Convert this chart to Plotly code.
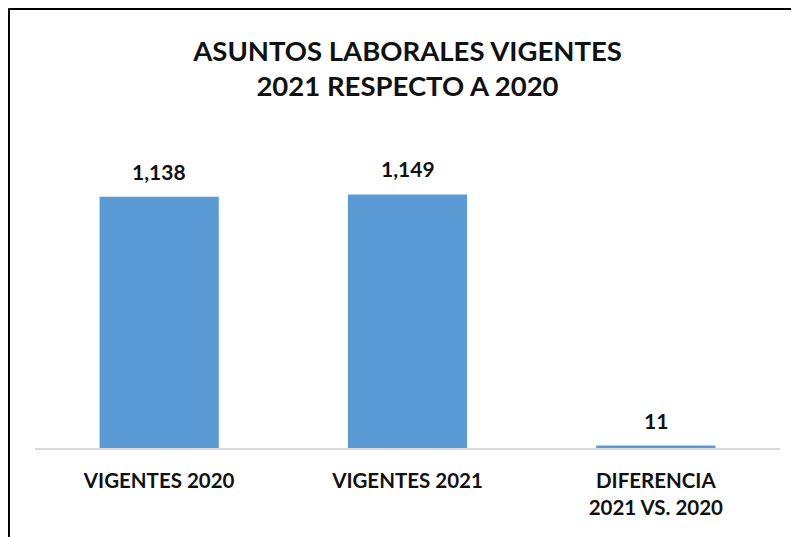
import plotly.graph_objects as go

categorias = ["VIGENTES 2020", "VIGENTES 2021", "DIFERENCIA<br>2021 VS. 2020"]
valores = [1138, 1149, 11]
etiquetas = ["1,138", "1,149", "11"]

FONT = "Lato"

fig = go.Figure(go.Bar(x=categorias, y=valores, marker_color="#5B9BD5",
                       marker_line_width=0))

# etiquetas de datos sobre cada barra
for c, v, t in zip(categorias, valores, etiquetas):
    fig.add_annotation(x=c, y=v, text="<b>%s</b>" % t, showarrow=False,
                       yanchor="bottom", yshift=11,
                       font=dict(family=FONT, size=21, color="#111111"))

fig.update_layout(
    width=799, height=537,
    margin=dict(l=27, r=27, t=131, b=97),
    plot_bgcolor="white", paper_bgcolor="white",
    bargap=0.52,
    showlegend=False,
    title=dict(text="<b>ASUNTOS LABORALES VIGENTES<br>2021 RESPECTO A 2020</b>",
               x=0.5, xref="paper", xanchor="center",
               y=0.902, yref="container", yanchor="top",
               font=dict(family=FONT, size=27.5, color="#111111")),
    xaxis=dict(showline=True, linecolor="#d9d9d9", linewidth=1.5,
               ticks="", ticklabelstandoff=14,
               tickfont=dict(family=FONT, size=20.5, color="#111111"),
               tickprefix="<b>", ticksuffix="</b>"),
    yaxis=dict(range=[0, 1400], visible=False, showgrid=False),
)

# marco del gráfico (solo visible arriba e izquierda)
fig.add_shape(type="line", xref="paper", yref="paper",
              x0=-0.0356, x1=1.05, y0=1.4223, y1=1.4223,
              line=dict(color="black", width=3))
fig.add_shape(type="line", xref="paper", yref="paper",
              x0=-0.0356, x1=-0.0356, y0=1.4223, y1=-0.35,
              line=dict(color="black", width=3))

fig.write_html("out.html")
